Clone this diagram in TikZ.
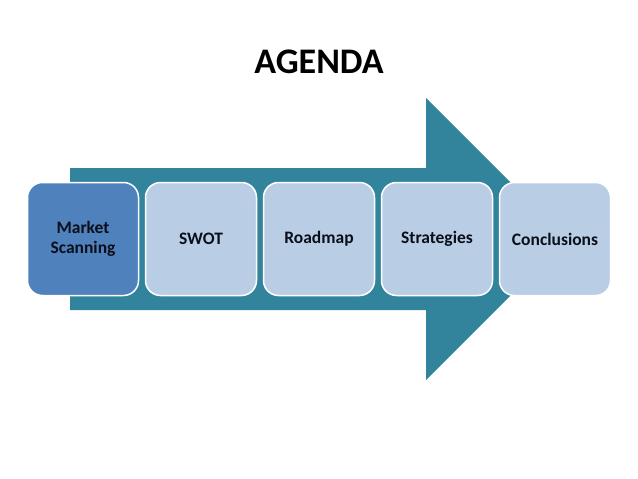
\documentclass[tikz,border=0pt]{standalone}
\usepackage{fontspec}
\setmainfont{Carlito}
\definecolor{arrowteal}{HTML}{31849B}
\definecolor{boxdark}{HTML}{4F81BD}
\definecolor{boxlight}{HTML}{B9CDE5}
\definecolor{textdark}{HTML}{0A0F1A}
\begin{document}
\begin{tikzpicture}[x=1pt,y=-1pt,
  stepbox/.style={draw=white, line width=1.5pt, rounded corners=15pt,
    minimum width=111pt, minimum height=113pt, inner sep=0pt,
    font=\fontsize{17.5}{20}\selectfont\bfseries, text=textdark, align=center},
  lightbox/.style={stepbox, fill=boxlight},
  darkbox/.style={stepbox, fill=boxdark}]
\useasboundingbox (0,0) rectangle (638,479);
\fill[white] (0,0) rectangle (638,479);
\node (title) at (319,62) {\fontsize{36}{40}\selectfont\bfseries AGENDA};
\fill[arrowteal] (70,168) -- (426,168) -- (426,98) -- (567,239) -- (426,380) -- (426,310) -- (70,310) -- cycle;
\node[darkbox]  (b1) at (83,239)  {Market\\Scanning};
\node[lightbox] (b2) at (201,239) {SWOT};
\node[lightbox] (b3) at (319,239) {Roadmap};
\node[lightbox] (b4) at (437,239) {Strategies};
\node[lightbox] (b5) at (555,239) {Conclusions};
\end{tikzpicture}
\end{document}
